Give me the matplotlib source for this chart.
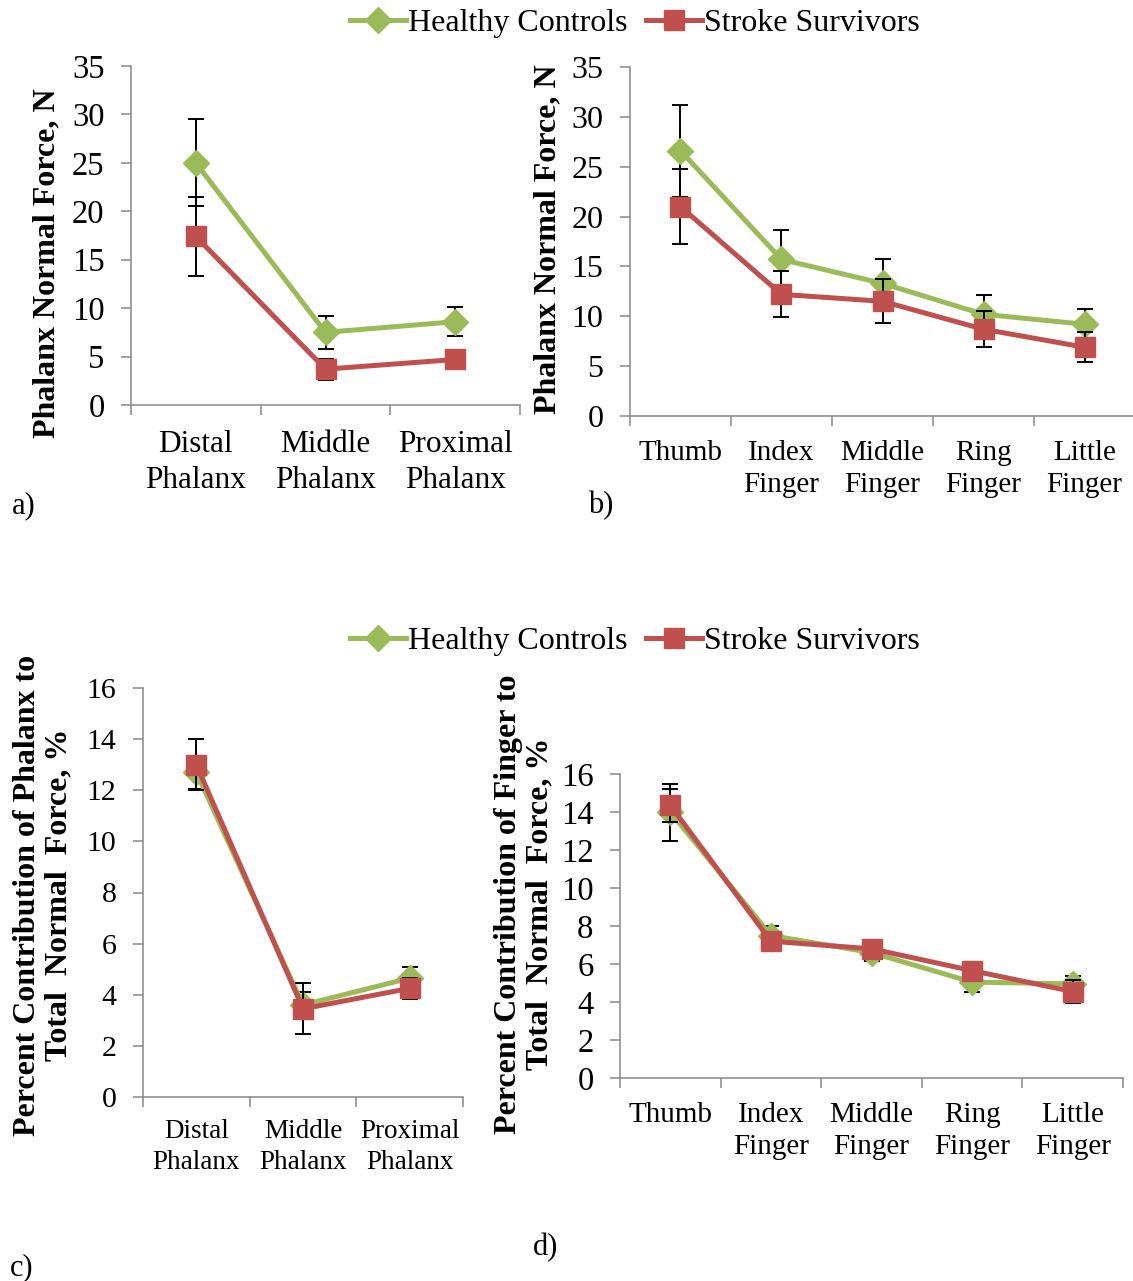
import matplotlib
matplotlib.use('Agg')
import matplotlib.pyplot as plt
from matplotlib.lines import Line2D
import numpy as np

# values
phalanx_labels = ['Distal\nPhalanx', 'Middle\nPhalanx', 'Proximal\nPhalanx']
finger_labels = ['Thumb', 'Index\nFinger', 'Middle\nFinger', 'Ring\nFinger', 'Little\nFinger']

# a) phalanx normal force, N
a_healthy = [25.0, 7.5, 8.6]
a_healthy_err = [4.5, 1.7, 1.5]
a_stroke = [17.4, 3.7, 4.7]
a_stroke_err = [4.1, 1.1, 0.6]

# b) finger normal force, N
b_healthy = [26.6, 15.7, 13.3, 10.2, 9.2]
b_healthy_err = [4.6, 3.0, 2.4, 1.9, 1.5]
b_stroke = [21.0, 12.2, 11.5, 8.7, 6.9]
b_stroke_err = [3.8, 2.3, 2.2, 1.8, 1.5]

# c) percent contribution of phalanx
c_healthy = [12.7, 3.6, 4.65]
c_healthy_err = [0.65, 0.5, 0.45]
c_stroke = [13.0, 3.45, 4.25]
c_stroke_err = [1.0, 1.0, 0.4]

# d) percent contribution of finger
d_healthy = [14.0, 7.5, 6.6, 5.05, 4.95]
d_healthy_err = [1.5, 0.5, 0.45, 0.5, 0.4]
d_stroke = [14.35, 7.2, 6.8, 5.65, 4.55]
d_stroke_err = [0.85, 0.4, 0.4, 0.4, 0.6]

GREEN = '#9BBB59'
RED = '#C0504D'
GREY = '#888888'

plt.rcParams['font.family'] = ['Liberation Serif', 'DejaVu Serif']

W, H = 1133, 1281
fig = plt.figure(figsize=(W / 100, H / 100), dpi=100)


def px_axes(x0, y0, x1, y1):
    return fig.add_axes([x0 / W, 1 - y1 / H, (x1 - x0) / W, (y1 - y0) / H])


def draw_panel(ax, labels, healthy, h_err, stroke, s_err, ymax, ystep, xfs, yfs, xpad):
    n = len(labels)
    x = np.arange(n)
    ax.errorbar(x, healthy, yerr=h_err, color=GREEN, lw=3.6, marker='D', ms=13,
                mec=GREEN, mfc=GREEN, ecolor='black', elinewidth=1.4, capsize=6,
                capthick=1.4, zorder=3)
    ax.errorbar(x, stroke, yerr=s_err, color=RED, lw=3.6, marker='s', ms=14,
                mec=RED, mfc=RED, ecolor='black', elinewidth=1.4, capsize=6,
                capthick=1.4, zorder=4)
    ax.set_xlim(-0.5, n - 0.5)
    ax.set_ylim(0, ymax)
    ax.set_yticks(np.arange(0, ymax + 0.1, ystep))
    ax.set_xticks(np.arange(n + 1) - 0.5)
    ax.set_xticklabels([])
    ax.set_xticks(x, minor=True)
    ax.set_xticklabels(labels, minor=True, fontsize=xfs, linespacing=1.3)
    ax.tick_params(axis='x', which='major', length=7, width=1.1, color=GREY, direction='out')
    ax.tick_params(axis='x', which='minor', length=0, pad=xpad)
    ax.tick_params(axis='y', length=7, width=1.1, color=GREY, direction='out', labelsize=yfs, pad=12)
    for s in ['top', 'right']:
        ax.spines[s].set_visible(False)
    for s in ['left', 'bottom']:
        ax.spines[s].set_color(GREY)
        ax.spines[s].set_linewidth(1.1)
    ax.patch.set_alpha(0)


ax_a = px_axes(131, 66, 520, 405)
draw_panel(ax_a, phalanx_labels, a_healthy, a_healthy_err, a_stroke, a_stroke_err,
           35, 5, 22.5, 23.5, 18)

ax_b = px_axes(630, 67, 1135, 416)
draw_panel(ax_b, finger_labels, b_healthy, b_healthy_err, b_stroke, b_stroke_err,
           35, 5, 21, 23, 17)

ax_c = px_axes(143, 688, 463, 1097)
draw_panel(ax_c, phalanx_labels, c_healthy, c_healthy_err, c_stroke, c_stroke_err,
           16, 2, 19.5, 21.5, 16)

ax_d = px_axes(620, 774, 1123, 1078)
draw_panel(ax_d, finger_labels, d_healthy, d_healthy_err, d_stroke, d_stroke_err,
           16, 2, 21, 23.5, 17)

# y axis titles
ylab = dict(rotation=90, ha='center', va='center', fontsize=23, fontweight='bold',
            multialignment='center', linespacing=1.1)
fig.text(47 / W, 1 - 263 / H, 'Phalanx Normal Force, N', **ylab)
fig.text(548 / W, 1 - 239 / H, 'Phalanx Normal Force, N', **ylab)
fig.text(43 / W, 1 - 895 / H, 'Percent Contribution of Phalanx to\nTotal  Normal  Force, %', **ylab)
fig.text(524 / W, 1 - 904 / H, 'Percent Contribution of Finger to\nTotal  Normal  Force, %', **ylab)

handles = [Line2D([], [], color=GREEN, lw=3.6, marker='D', ms=13, label='Healthy Controls'),
           Line2D([], [], color=RED, lw=3.6, marker='s', ms=14, label='Stroke Survivors')]
for yc in [23, 641]:
    fig.legend(handles=handles, loc='center', bbox_to_anchor=(635 / W, 1 - yc / H),
               ncol=2, frameon=False, fontsize=23, handlelength=1.75, handletextpad=0.05,
               columnspacing=0.6, borderpad=0)

fig.text(12 / W, 1 - 506 / H, 'a)', fontsize=22, va='center')
fig.text(588 / W, 1 - 506 / H, 'b)', fontsize=22, va='center')
fig.text(10 / W, 1 - 1268 / H, 'c)', fontsize=22, va='center')
fig.text(533 / W, 1 - 1248 / H, 'd)', fontsize=22, va='center')

fig.savefig('out.png', dpi=100)
